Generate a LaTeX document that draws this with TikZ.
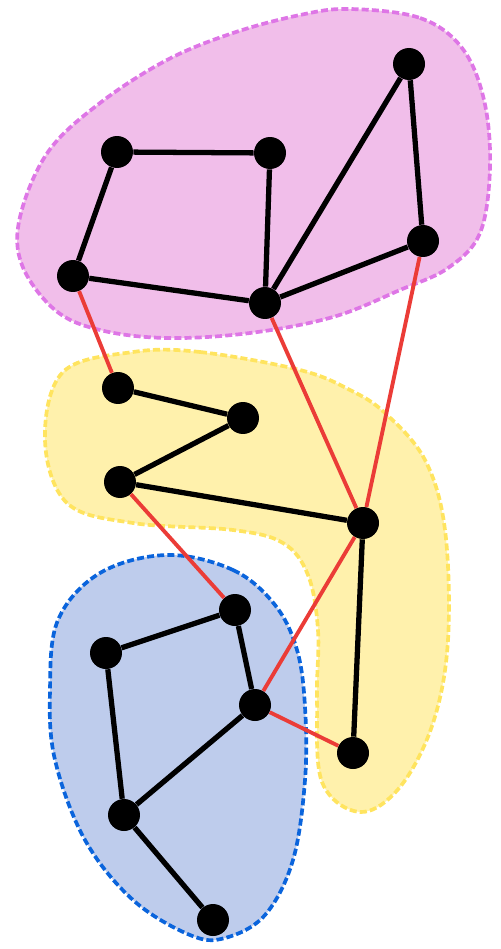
\documentclass[tikz,border=0pt]{standalone}
\begin{document}
\begin{tikzpicture}[x=0.02cm,y=-0.02cm,
  vtx/.style={circle,fill=black,inner sep=0pt,minimum size=0.64cm},
  tree/.style={line width=3pt,black},
  link/.style={line width=2.2pt,color=linkred},
  region/.style={line width=2.1pt,dash pattern=on 4pt off 1.8pt}]
\definecolor{linkred}{RGB}{235,60,55}
\definecolor{pinkfill}{RGB}{241,190,234}
\definecolor{pinkline}{RGB}{222,118,230}
\definecolor{yellowfill}{RGB}{255,241,172}
\definecolor{yellowline}{RGB}{255,228,95}
\definecolor{bluefill}{RGB}{190,204,236}
\definecolor{blueline}{RGB}{10,100,220}
\useasboundingbox (0,0) rectangle (500,949);

% clusters
\draw[region,fill=yellowfill,draw=yellowline] plot[smooth cycle,tension=0.6] coordinates {
  (133,352) (200,352) (300,370) (350,390) (385,413) (425,460) (445,530)
  (448,640) (433,723) (400,787) (360,812) (322,782) (317,700) (318,630)
  (308,575) (283,543) (233,530) (133,523) (67,503) (45,440) (63,372)};
\draw[region,fill=pinkfill,draw=pinkline] plot[smooth cycle,tension=0.6] coordinates {
  (350,9) (420,18) (462,48) (484,100) (490,167) (480,233) (448,268)
  (400,290) (333,317) (250,333) (167,338) (100,330) (55,310) (22,265)
  (20,217) (48,152) (100,103) (167,60) (233,33) (300,15)};
\draw[region,fill=bluefill,draw=blueline] plot[smooth cycle,tension=0.6] coordinates {
  (167,555) (233,570) (275,605) (297,650) (305,707) (305,780) (293,860)
  (265,915) (225,938) (190,935) (133,900) (85,840) (55,760) (50,690)
  (58,620) (100,573)};

% vertices
\node[vtx] (A) at (117,152) {};
\node[vtx] (B) at (270,153) {};
\node[vtx] (C) at (409,64) {};
\node[vtx] (D) at (423,241) {};
\node[vtx] (E) at (73,276) {};
\node[vtx] (F) at (265,303) {};
\node[vtx] (G) at (118,388) {};
\node[vtx] (H) at (243,418) {};
\node[vtx] (I) at (120,482) {};
\node[vtx] (J) at (363,523) {};
\node[vtx] (K) at (353,753) {};
\node[vtx] (L) at (235,610) {};
\node[vtx] (M) at (106,653) {};
\node[vtx] (N) at (255,705) {};
\node[vtx] (O) at (124,815) {};
\node[vtx] (P) at (213,920) {};

% edges between clusters
\draw[link] (E) -- (G);
\draw[link] (F) -- (J);
\draw[link] (D) -- (J);
\draw[link] (I) -- (L);
\draw[link] (J) -- (N);
\draw[link] (N) -- (K);

% edges inside clusters
\draw[tree] (A) -- (B) (B) -- (F) (A) -- (E) (E) -- (F)
  (F) -- (C) (C) -- (D) (D) -- (F);
\draw[tree] (G) -- (H) (H) -- (I) (I) -- (J) (J) -- (K);
\draw[tree] (L) -- (M) (L) -- (N) (M) -- (O) (N) -- (O) (O) -- (P);
\end{tikzpicture}
\end{document}
